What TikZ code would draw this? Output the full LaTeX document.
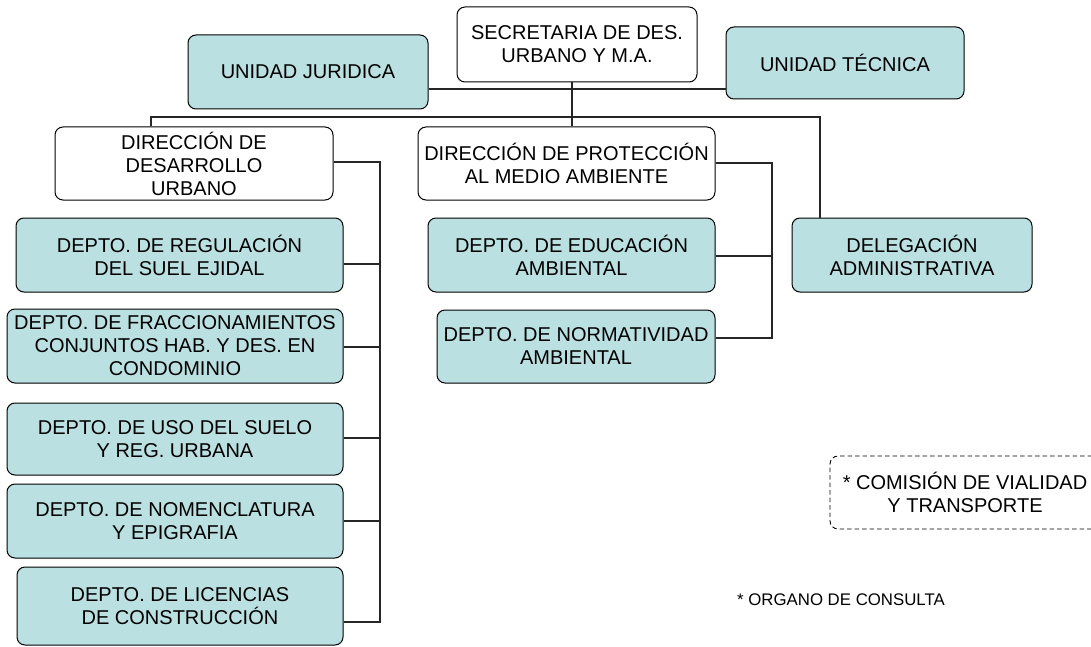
\documentclass[tikz,border=0pt]{standalone}
\usepackage{fontspec}
\setmainfont{Liberation Sans}
\definecolor{boxfill}{RGB}{186,224,226}
\tikzset{
  box/.style={draw=black, line width=1pt, rounded corners=8pt, align=center, inner sep=0pt,
              font=\fontsize{20}{23}\selectfont, text=black},
  tbox/.style={box, fill=boxfill},
  wbox/.style={box, fill=white},
  conn/.style={line width=1.1pt, draw=black!85},
}
\begin{document}
\begin{tikzpicture}[x=1pt, y=-1pt]
\useasboundingbox (0,0) rectangle (1091,647);
\fill[white] (0,0) rectangle (1091,647);
% nodes
\node[wbox, minimum width=240pt, minimum height=75pt] (sec) at (577,44.5) {SECRETARIA DE DES.\\URBANO Y M.A.};
\node[tbox, minimum width=240pt, minimum height=74pt] (jur) at (308,72) {UNIDAD JURIDICA};
\node[tbox, minimum width=238pt, minimum height=72pt] (tec) at (845,63) {UNIDAD TÉCNICA};
\node[wbox, minimum width=278pt, minimum height=73pt] (ddu) at (194,163.5) {DIRECCIÓN DE\\DESARROLLO\\URBANO};
\node[tbox, minimum width=327pt, minimum height=74pt] (reg) at (179.5,255) {DEPTO. DE REGULACIÓN\\DEL SUEL EJIDAL};
\node[tbox, minimum width=336pt, minimum height=74pt] (fra) at (175,346) {DEPTO. DE FRACCIONAMIENTOS\\CONJUNTOS HAB. Y DES. EN\\CONDOMINIO};
\node[tbox, minimum width=336pt, minimum height=72pt] (uso) at (175,439) {DEPTO. DE USO DEL SUELO\\Y REG. URBANA};
\node[tbox, minimum width=336pt, minimum height=74pt] (nom) at (175,521) {DEPTO. DE NOMENCLATURA\\Y EPIGRAFIA};
\node[tbox, minimum width=326pt, minimum height=78pt] (lic) at (180,606) {DEPTO. DE LICENCIAS\\DE CONSTRUCCIÓN};
\node[wbox, minimum width=297pt, minimum height=73pt] (dpma) at (566.5,163.5) {DIRECCIÓN DE PROTECCIÓN\\AL MEDIO AMBIENTE};
\node[tbox, minimum width=287pt, minimum height=74pt] (edu) at (571.5,255) {DEPTO. DE EDUCACIÓN\\AMBIENTAL};
\node[tbox, minimum width=278pt, minimum height=73pt] (nor) at (576,346.5) {DEPTO. DE NORMATIVIDAD\\AMBIENTAL};
\node[tbox, minimum width=240pt, minimum height=74pt] (del) at (912,255) {DELEGACIÓN\\ADMINISTRATIVA};
\node[box, draw=black, line width=0.9pt, dash pattern=on 4.5pt off 3pt, minimum width=270pt, minimum height=73pt] (com) at (965,492.5) {* COMISIÓN DE VIALIDAD\\Y TRANSPORTE};
\node[anchor=west, inner sep=0pt, font=\fontsize{16.8}{19}\selectfont] (org) at (737,600) {* ORGANO DE CONSULTA};
% spine coordinates
\coordinate (bus) at (572,117);
\coordinate (sL) at (380,0);
\coordinate (sR) at (772,0);
% connectors
\draw[conn] (sec.south -| bus) -- (dpma.north -| bus);
\draw[conn] (jur.east |- 0,89) -- (tec.west |- 0,89);
\draw[conn] (ddu.north -| 151,0) -- (151,117) -- (820,117) -- (del.north -| 820,0);
% left spine
\draw[conn] (ddu.east |- 0,162) -- (sL |- 0,162) -- (sL |- 0,622) -- (lic.east |- 0,622);
\draw[conn] (reg.east |- 0,264) -- (sL |- 0,264);
\draw[conn] (fra.east |- 0,347) -- (sL |- 0,347);
\draw[conn] (uso.east |- 0,438) -- (sL |- 0,438);
\draw[conn] (nom.east |- 0,521) -- (sL |- 0,521);
% right spine
\draw[conn] (dpma.east |- 0,163) -- (sR |- 0,163) -- (sR |- 0,338) -- (nor.east |- 0,338);
\draw[conn] (edu.east |- 0,256) -- (sR |- 0,256);
\end{tikzpicture}
\end{document}
